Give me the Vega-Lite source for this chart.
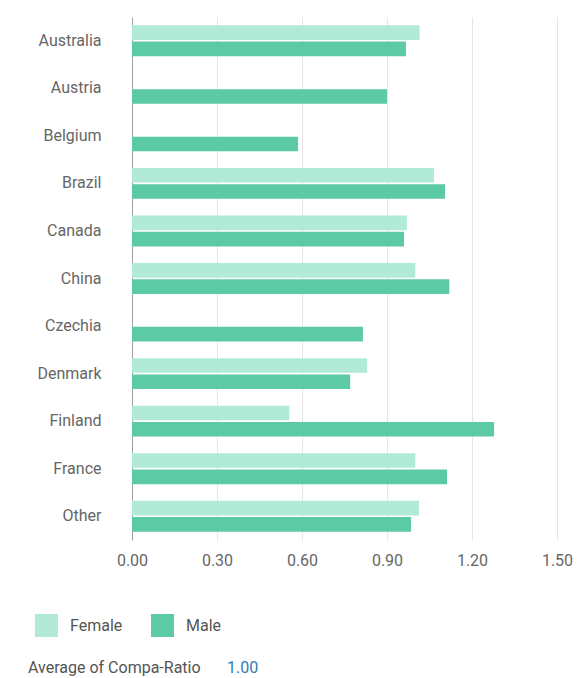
{
  "$schema": "https://vega.github.io/schema/vega-lite/v6.json",
  "width": 425,
  "height": 523,
  "autosize": {"type": "none"},
  "padding": {"left": 132, "top": 17, "right": 20, "bottom": 138},
  "background": "white",
  "config": {
    "font": "Roboto",
    "view": {"stroke": null},
    "axis": {"labelFont": "Roboto", "labelColor": "#666666", "labelFontSize": 16, "labelFontWeight": "normal"}
  },
  "datasets": {
    "bars": [
      {"country": "Australia", "gender": "Female", "ratio": 1.015},
      {"country": "Australia", "gender": "Male", "ratio": 0.967},
      {"country": "Austria", "gender": "Male", "ratio": 0.90},
      {"country": "Belgium", "gender": "Male", "ratio": 0.586},
      {"country": "Brazil", "gender": "Female", "ratio": 1.066},
      {"country": "Brazil", "gender": "Male", "ratio": 1.105},
      {"country": "Canada", "gender": "Female", "ratio": 0.97},
      {"country": "Canada", "gender": "Male", "ratio": 0.96},
      {"country": "China", "gender": "Female", "ratio": 1.0},
      {"country": "China", "gender": "Male", "ratio": 1.12},
      {"country": "Czechia", "gender": "Male", "ratio": 0.815},
      {"country": "Denmark", "gender": "Female", "ratio": 0.83},
      {"country": "Denmark", "gender": "Male", "ratio": 0.77},
      {"country": "Finland", "gender": "Female", "ratio": 0.555},
      {"country": "Finland", "gender": "Male", "ratio": 1.278},
      {"country": "France", "gender": "Female", "ratio": 1.0},
      {"country": "France", "gender": "Male", "ratio": 1.112},
      {"country": "Other", "gender": "Female", "ratio": 1.013},
      {"country": "Other", "gender": "Male", "ratio": 0.985}
    ],
    "summary": [
      {"measure": "Average of Compa-Ratio", "value": "1.00"}
    ]
  },
  "layer": [
    {
      "data": {"name": "bars"},
      "mark": {"type": "bar"},
      "encoding": {
        "y": {
          "field": "country",
          "type": "nominal",
          "sort": ["Australia", "Austria", "Belgium", "Brazil", "Canada", "China", "Czechia", "Denmark", "Finland", "France", "Other"],
          "scale": {"paddingInner": 0.35, "paddingOuter": 0.175},
          "axis": {
            "title": null,
            "ticks": false,
            "labelPadding": 31,
            "domain": true,
            "domainColor": "#a0a0a0",
            "domainWidth": 1,
            "grid": false
          }
        },
        "yOffset": {
          "field": "gender",
          "type": "nominal",
          "sort": ["Female", "Male"],
          "scale": {"paddingInner": 0.1, "paddingOuter": 0}
        },
        "x": {
          "field": "ratio",
          "type": "quantitative",
          "scale": {"domain": [0, 1.5], "nice": false, "zero": true},
          "axis": {
            "title": null,
            "values": [0, 0.3, 0.6, 0.9, 1.2, 1.5],
            "format": ".2f",
            "domain": false,
            "ticks": false,
            "labelFlush": false,
            "labelPadding": 12,
            "grid": true,
            "gridColor": "#e6e6e6",
            "gridWidth": 1
          }
        },
        "color": {
          "field": "gender",
          "type": "nominal",
          "scale": {"domain": ["Female", "Male"], "range": ["#b1ebd8", "#5ccaa5"]},
          "legend": {
            "title": null,
            "orient": "none",
            "legendX": -97,
            "legendY": 597,
            "direction": "horizontal",
            "symbolType": "square",
            "symbolSize": 529,
            "symbolStrokeWidth": 0,
            "symbolOpacity": 1,
            "labelFont": "Roboto",
            "labelFontSize": 16,
            "labelColor": "#555555",
            "labelOffset": 12,
            "columnPadding": 28
          }
        }
      }
    },
    {
      "data": {"name": "summary"},
      "mark": {"type": "point", "opacity": 0},
      "encoding": {
        "shape": {
          "field": "value",
          "type": "nominal",
          "legend": {
            "title": "Average of Compa-Ratio",
            "titleOrient": "left",
            "titleFont": "Roboto",
            "titleFontSize": 16,
            "titleFontWeight": "normal",
            "titleColor": "#555555",
            "titlePadding": 10,
            "orient": "none",
            "legendX": -104,
            "legendY": 643,
            "symbolSize": 0,
            "symbolOpacity": 0,
            "symbolStrokeWidth": 0,
            "labelOffset": 0,
            "labelFont": "Roboto",
            "labelFontSize": 16,
            "labelColor": "#2f7bb6"
          }
        }
      }
    }
  ]
}
